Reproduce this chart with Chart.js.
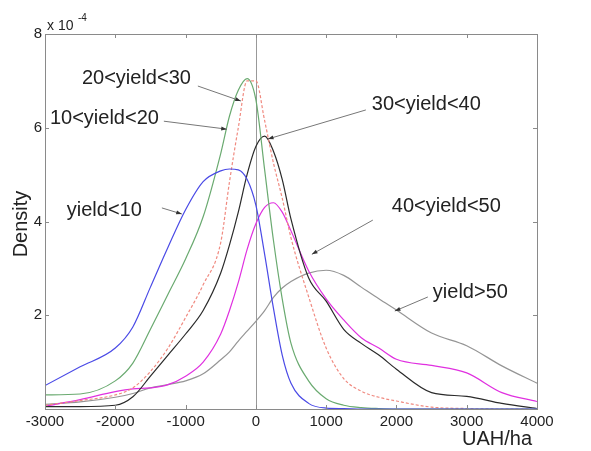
<!DOCTYPE html>
<html>
<head>
<meta charset="utf-8">
<script src="https://cdn.jsdelivr.net/npm/chart.js@4"></script>
<style>
  body { margin: 0; background: #fff; }
</style>
</head>
<body>
<canvas id="kde" width="591" height="451"></canvas>
<script>
// x grid (UAH/ha) shared by all curves
const xs = [-3000,-2500,-2000,-1750,-1500,-1250,-1000,-750,-500,-375,-250,-125,0,125,250,375,500,750,1000,1250,1500,1750,2000,2500,3000,3500,4000];

// density values, in units of 1e-4
const yieldLt10  = [0.5,0.9,1.3,1.75,2.6,3.45,4.25,4.85,5.08,5.12,5.1,4.9,4.35,3.3,2.15,1.15,0.55,0.12,0.02,0.01,0,0,0,0,0,0,0];
const yield10_20 = [0.3,0.32,0.6,0.98,1.7,2.45,3.2,4.1,5.45,6.25,6.8,7.05,6.6,5.1,3.6,2.35,1.4,0.6,0.22,0.08,0.03,0.01,0,0,0,0,0];
const yield20_30 = [0.08,0.18,0.3,0.45,0.8,1.3,1.95,2.65,3.55,4.85,6.0,7.0,7.0,6.15,5.25,4.5,3.65,2.4,1.3,0.65,0.38,0.25,0.17,0.04,0.01,0,0];
const yield30_40 = [0.05,0.05,0.08,0.26,0.7,1.15,1.6,2.1,2.9,3.5,4.2,5.0,5.6,5.82,5.5,4.9,4.05,2.8,2.3,1.7,1.4,1.15,0.85,0.35,0.27,0.12,0.01];
const yield40_50 = [0.06,0.2,0.37,0.43,0.45,0.52,0.7,1.0,1.6,2.1,2.7,3.4,3.95,4.3,4.4,4.2,3.8,2.95,2.35,1.9,1.52,1.3,1.06,0.93,0.77,0.35,0.16];
const yieldGt50  = [0.1,0.15,0.25,0.33,0.45,0.52,0.6,0.75,1.05,1.22,1.45,1.66,1.87,2.1,2.38,2.58,2.72,2.9,2.96,2.85,2.6,2.35,2.11,1.62,1.35,0.92,0.55];

const xTicks = [-3000,-2000,-1000,0,1000,2000,3000,4000];
const yTicks = [0,2,4,6,8];

// annotation labels: text, text anchor (left, middle) and arrow from/to, in data units
const noteText = ['20<yield<30','10<yield<20','30<yield<40','yield<10','40<yield<50','yield>50'];
const noteAt   = [[-2475,7.06],[-2930,6.2],[1650,6.5],[-2690,4.24],[1935,4.31],[2518,2.49]];
const arrowFrom = [[-825,6.89],[-1309,6.14],[1565,6.38],[-1337,4.29],[1664,4.03],[2447,2.39]];
const arrowTo   = [[-213,6.57],[-413,5.97],[171,5.76],[-1053,4.16],[797,3.3],[1977,2.09]];

function pts(ys) { return ys.map((y, i) => ({x: xs[i], y: y})); }

function line(label, ys, color, dash) {
  return {
    label: label,
    data: pts(ys),
    borderColor: color,
    borderWidth: 1.2,
    borderDash: dash || [],
    pointRadius: 0,
    fill: false,
    cubicInterpolationMode: 'monotone'
  };
}

const frame = {
  id: 'frame',
  beforeDatasetsDraw(chart) {
    const {ctx, chartArea: a, scales: {x}} = chart;
    ctx.save();
    ctx.strokeStyle = '#999';
    ctx.lineWidth = 1;
    const x0 = Math.round(x.getPixelForValue(0)) + 0.5;
    ctx.beginPath();
    ctx.moveTo(x0, a.top);
    ctx.lineTo(x0, a.bottom);
    ctx.stroke();
    ctx.restore();
  },
  afterDatasetsDraw(chart) {
    const {ctx, chartArea: a, scales: {x, y}} = chart;
    ctx.save();
    ctx.strokeStyle = '#8a8a8a';
    ctx.lineWidth = 1;
    ctx.strokeRect(a.left + 0.5, a.top + 0.5, a.right - a.left, a.bottom - a.top);
    ctx.beginPath();
    xTicks.forEach(v => {
      const p = Math.round(x.getPixelForValue(v)) + 0.5;
      ctx.moveTo(p, a.bottom); ctx.lineTo(p, a.bottom - 4);
      ctx.moveTo(p, a.top); ctx.lineTo(p, a.top + 4);
    });
    yTicks.forEach(v => {
      const p = Math.round(y.getPixelForValue(v)) + 0.5;
      ctx.moveTo(a.left, p); ctx.lineTo(a.left + 4, p);
      ctx.moveTo(a.right, p); ctx.lineTo(a.right - 4, p);
    });
    ctx.stroke();

    // labels with arrows
    ctx.font = '20px "Liberation Sans", Arial, sans-serif';
    ctx.textBaseline = 'middle';
    ctx.textAlign = 'left';
    noteText.forEach((t, i) => {
      ctx.fillStyle = '#222';
      ctx.fillText(t, x.getPixelForValue(noteAt[i][0]), y.getPixelForValue(noteAt[i][1]));
      const fx = x.getPixelForValue(arrowFrom[i][0]), fy = y.getPixelForValue(arrowFrom[i][1]);
      const tx = x.getPixelForValue(arrowTo[i][0]), ty = y.getPixelForValue(arrowTo[i][1]);
      ctx.strokeStyle = '#777';
      ctx.beginPath(); ctx.moveTo(fx, fy); ctx.lineTo(tx, ty); ctx.stroke();
      const ang = Math.atan2(ty - fy, tx - fx);
      ctx.fillStyle = '#333';
      ctx.beginPath();
      ctx.moveTo(tx, ty);
      ctx.lineTo(tx - 6 * Math.cos(ang - 0.35), ty - 6 * Math.sin(ang - 0.35));
      ctx.lineTo(tx - 6 * Math.cos(ang + 0.35), ty - 6 * Math.sin(ang + 0.35));
      ctx.closePath();
      ctx.fill();
    });

    // axis titles and exponent
    ctx.fillStyle = '#222';
    ctx.textAlign = 'center';
    ctx.fillText('UAH/ha', 497, 439);
    ctx.save();
    ctx.translate(21, 224);
    ctx.rotate(-Math.PI / 2);
    ctx.fillText('Density', 0, 0);
    ctx.restore();
    ctx.textAlign = 'left';
    ctx.font = '14px "Liberation Sans", Arial, sans-serif';
    ctx.fillText('x 10', 47, 26);
    ctx.font = '10px "Liberation Sans", Arial, sans-serif';
    ctx.fillText('-4', 78, 18);
    ctx.restore();
  }
};

new Chart(document.getElementById('kde'), {
  type: 'line',
  data: {
    datasets: [
      line('yield<10', yieldLt10, '#4a4ae6'),
      line('10<yield<20', yield10_20, '#6aaa70'),
      line('20<yield<30', yield20_30, '#f08a80', [3, 2]),
      line('30<yield<40', yield30_40, '#2a2a2a'),
      line('40<yield<50', yield40_50, '#e030e0'),
      line('yield>50', yieldGt50, '#959595')
    ]
  },
  options: {
    responsive: false,
    animation: false,
    layout: { padding: { top: 34, right: 54, left: 0, bottom: 0 } },
    plugins: { legend: { display: false }, tooltip: { enabled: false } },
    scales: {
      x: {
        type: 'linear',
        min: -3000, max: 4000,
        afterBuildTicks: s => { s.ticks = xTicks.map(v => ({value: v})); },
        ticks: { color: '#222', font: { size: 15, family: '"Liberation Sans", Arial' }, padding: 4, maxRotation: 0,
                 callback: v => String(v) },
        grid: { display: false, drawTicks: false },
        border: { display: false },
        afterFit: s => { s.height = 42; }
      },
      y: {
        min: 0, max: 8,
        afterBuildTicks: s => { s.ticks = yTicks.map(v => ({value: v})); },
        ticks: { color: '#222', font: { size: 15, family: '"Liberation Sans", Arial' }, padding: 3,
                 callback: v => v === 0 ? '' : String(v) },
        grid: { display: false, drawTicks: false },
        border: { display: false },
        afterFit: s => { s.width = 45; }
      }
    }
  },
  plugins: [frame]
});
</script>
</body>
</html>
